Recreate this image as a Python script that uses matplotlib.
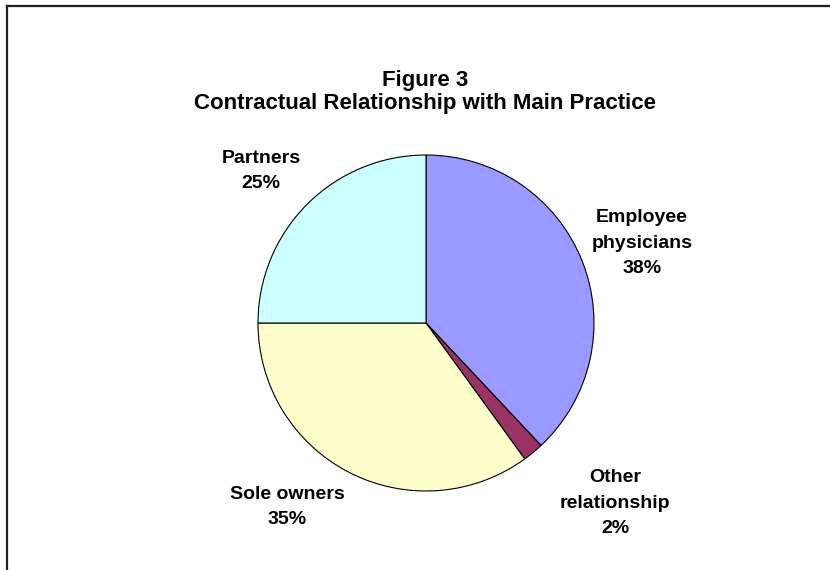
import matplotlib
matplotlib.use("Agg")
import matplotlib.pyplot as plt
from matplotlib.lines import Line2D

# Contractual relationship shares (%), clockwise from 12 o'clock
categories = ["Employee\nphysicians", "Other\nrelationship", "Sole owners", "Partners"]
shares = [38, 2, 35, 25]
colors = ["#9999FF", "#993366", "#FFFFCC", "#CCFFFF"]

title = "Figure 3\nContractual Relationship with Main Practice"

W, H = 830, 570
plt.rcParams["font.family"] = ["Liberation Sans", "DejaVu Sans"]

fig = plt.figure(figsize=(W / 100, H / 100), dpi=100)
ax = fig.add_axes([0, 0, 1, 1])

cx, cy, r = 426, H - 323, 168
wedges, _ = ax.pie(shares, colors=colors, startangle=90, counterclock=False,
                   center=(cx, cy), radius=r,
                   wedgeprops=dict(edgecolor="black", linewidth=0.8))
ax.set_xlim(0, W)
ax.set_ylim(0, H)
ax.set_aspect("equal")
ax.axis("off")

# label anchor points (pixels from top-left)
label_xy = [(642, 243), (615, 503), (287, 507), (261, 171)]
for name, val, (lx, ly) in zip(categories, shares, label_xy):
    ax.text(lx, H - ly, f"{name}\n{val}%", ha="center", va="center",
            fontsize=14, fontweight="bold", linespacing=1.68)

fig.text(425 / W, 1 - 92 / H, title, ha="center", va="center",
         fontsize=16, fontweight="bold", linespacing=1.15)

# chart area border (top and left edges only)
fig.add_artist(Line2D([7 / W, 1], [1 - 6 / H, 1 - 6 / H], color="#222222", lw=1.6))
fig.add_artist(Line2D([7 / W, 7 / W], [1 - 6 / H, 0], color="#222222", lw=1.6))

fig.savefig("out.png", dpi=100)
